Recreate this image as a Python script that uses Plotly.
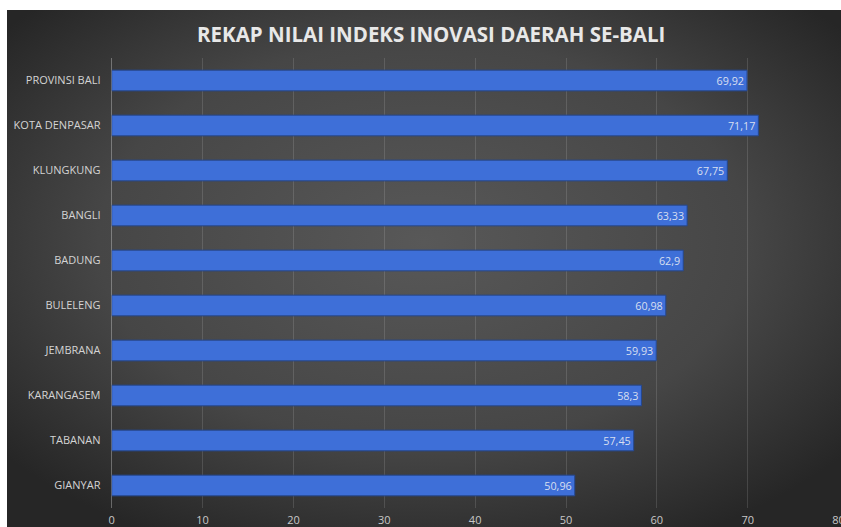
import base64
import plotly.graph_objects as go

categories = ["PROVINSI BALI", "KOTA DENPASAR", "KLUNGKUNG", "BANGLI", "BADUNG",
              "BULELENG", "JEMBRANA", "KARANGASEM", "TABANAN", "GIANYAR"]
values = [69.92, 71.17, 67.75, 63.33, 62.9, 60.98, 59.93, 58.3, 57.45, 50.96]
value_labels = ["69,92", "71,17", "67,75", "63,33", "62,9", "60,98", "59,93", "58,3", "57,45", "50,96"]
x_ticks = [0, 10, 20, 30, 40, 50, 60, 70, 80]
title = "REKAP NILAI INDEKS INOVASI DAERAH SE-BALI"

W, H = 841, 527

svg = """<svg xmlns='http://www.w3.org/2000/svg' width='834' height='517' viewBox='0 0 834 517'>
<defs><radialGradient id='g' cx='50%' cy='45%' r='65%'>
<stop offset='0%' stop-color='#585858'/>
<stop offset='60%' stop-color='#464646'/>
<stop offset='100%' stop-color='#262626'/>
</radialGradient></defs>
<rect width='834' height='517' fill='url(#g)'/></svg>"""
bg_src = "data:image/svg+xml;base64," + base64.b64encode(svg.encode()).decode()

fig = go.Figure()
fig.add_trace(go.Bar(
    y=categories, x=values, orientation="h",
    text=value_labels, textposition="inside", insidetextanchor="end",
    textfont=dict(color="#d8dff0", size=11, family="Open Sans"),
    marker=dict(color="#3e6fd8", line=dict(color="#24478f", width=1)),
    width=0.46, cliponaxis=False,
))

fig.update_layout(
    width=W, height=H,
    margin=dict(l=0, r=0, t=0, b=0),
    paper_bgcolor="white", plot_bgcolor="rgba(0,0,0,0)",
    showlegend=False,
    images=[dict(source=bg_src, xref="paper", yref="paper",
                 x=7 / W, y=1 - 10 / H, sizex=834 / W, sizey=517 / H,
                 xanchor="left", yanchor="top", sizing="stretch", layer="below")],
    annotations=[dict(text="<b>" + title + "</b>", xref="paper", yref="paper",
                      x=431 / W, y=1 - 34 / H, xanchor="center", yanchor="middle",
                      showarrow=False,
                      font=dict(family="Open Sans", size=20.5, color="#e8e8e8"))],
    xaxis=dict(domain=[111.7 / W, 838.6 / W], range=[0, 80], tickvals=x_ticks,
               showgrid=True, gridcolor="rgba(255,255,255,0.13)", gridwidth=1,
               zeroline=True, zerolinecolor="rgba(255,255,255,0.3)", zerolinewidth=1,
               tickfont=dict(family="Open Sans", size=11, color="#c8c8c8"),
               ticklabeloverflow="allow", ticklabelstandoff=4,
               ticks="", automargin=False, fixedrange=True),
    yaxis=dict(domain=[1 - 508 / H, 1 - 58 / H], autorange="reversed",
               categoryorder="array", categoryarray=categories,
               showgrid=False, zeroline=False, ticks="outside", ticklen=8,
               tickcolor="rgba(0,0,0,0)",
               tickfont=dict(family="Open Sans", size=11, color="#d4d4d4"),
               automargin=False, fixedrange=True),
    bargap=0.54,
)

fig.write_html("out.html")
